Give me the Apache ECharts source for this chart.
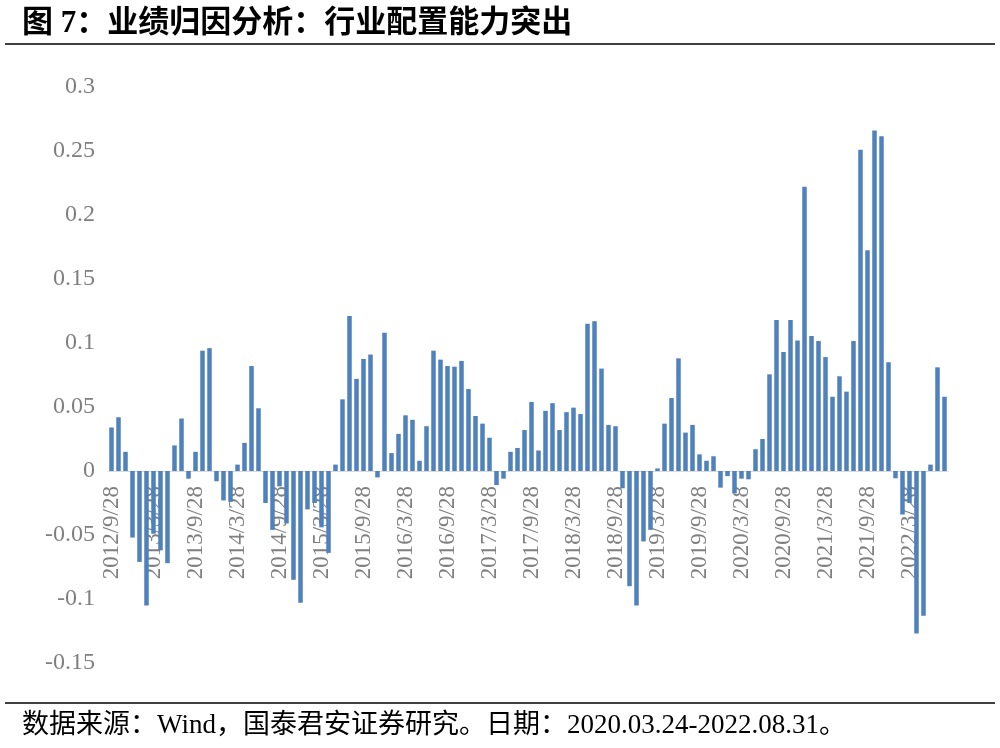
<!DOCTYPE html>
<html lang="zh-CN">
<head>
<meta charset="utf-8" />
<script src="https://cdn.jsdelivr.net/npm/echarts@6/dist/echarts.min.js"></script>
</head>
<body style="margin: 0; background: #fff">
<div id="container" style="width: 1000px; height: 748px;"></div>
<script type="text/javascript">
    // monthly dates, 2012/9/28 .. 2022/8/28
    var categories = [
        '2012/9/28', '2012/10/28', '2012/11/28', '2012/12/28',
        '2013/1/28', '2013/2/28', '2013/3/28', '2013/4/28', '2013/5/28', '2013/6/28', '2013/7/28', '2013/8/28', '2013/9/28', '2013/10/28', '2013/11/28', '2013/12/28',
        '2014/1/28', '2014/2/28', '2014/3/28', '2014/4/28', '2014/5/28', '2014/6/28', '2014/7/28', '2014/8/28', '2014/9/28', '2014/10/28', '2014/11/28', '2014/12/28',
        '2015/1/28', '2015/2/28', '2015/3/28', '2015/4/28', '2015/5/28', '2015/6/28', '2015/7/28', '2015/8/28', '2015/9/28', '2015/10/28', '2015/11/28', '2015/12/28',
        '2016/1/28', '2016/2/28', '2016/3/28', '2016/4/28', '2016/5/28', '2016/6/28', '2016/7/28', '2016/8/28', '2016/9/28', '2016/10/28', '2016/11/28', '2016/12/28',
        '2017/1/28', '2017/2/28', '2017/3/28', '2017/4/28', '2017/5/28', '2017/6/28', '2017/7/28', '2017/8/28', '2017/9/28', '2017/10/28', '2017/11/28', '2017/12/28',
        '2018/1/28', '2018/2/28', '2018/3/28', '2018/4/28', '2018/5/28', '2018/6/28', '2018/7/28', '2018/8/28', '2018/9/28', '2018/10/28', '2018/11/28', '2018/12/28',
        '2019/1/28', '2019/2/28', '2019/3/28', '2019/4/28', '2019/5/28', '2019/6/28', '2019/7/28', '2019/8/28', '2019/9/28', '2019/10/28', '2019/11/28', '2019/12/28',
        '2020/1/28', '2020/2/28', '2020/3/28', '2020/4/28', '2020/5/28', '2020/6/28', '2020/7/28', '2020/8/28', '2020/9/28', '2020/10/28', '2020/11/28', '2020/12/28',
        '2021/1/28', '2021/2/28', '2021/3/28', '2021/4/28', '2021/5/28', '2021/6/28', '2021/7/28', '2021/8/28', '2021/9/28', '2021/10/28', '2021/11/28', '2021/12/28',
        '2022/1/28', '2022/2/28', '2022/3/28', '2022/4/28', '2022/5/28', '2022/6/28', '2022/7/28', '2022/8/28'
    ];

    var values = [
        0.034, 0.042, 0.015, -0.052,
        -0.071, -0.105, -0.049, -0.062, -0.072, 0.020, 0.041, -0.006, 0.015, 0.094, 0.096, -0.008,
        -0.023, -0.024, 0.005, 0.022, 0.082, 0.049, -0.025, -0.046, -0.012, -0.041, -0.085, -0.103,
        -0.030, -0.025, -0.044, -0.064, 0.005, 0.056, 0.121, 0.072, 0.0875, 0.091, -0.005, 0.108,
        0.014, 0.029, 0.0435, 0.040, 0.008, 0.035, 0.094, 0.087, 0.082, 0.0815, 0.086, 0.064,
        0.043, 0.037, 0.026, -0.011, -0.006, 0.015, 0.018, 0.032, 0.054, 0.016, 0.047, 0.053,
        0.032, 0.046, 0.0495, 0.0445, 0.115, 0.117, 0.080, 0.036, 0.035, -0.0135, -0.090, -0.105,
        -0.055, -0.046, 0.002, 0.037, 0.057, 0.088, 0.030, 0.036, 0.013, 0.008, 0.0115, -0.013,
        -0.004, -0.0175, -0.006, -0.0065, 0.017, 0.025, 0.0755, 0.118, 0.093, 0.118, 0.102, 0.222,
        0.1055, 0.1015, 0.089, 0.058, 0.074, 0.062, 0.1015, 0.251, 0.1725, 0.266, 0.2615, 0.085,
        -0.0057, -0.034, -0.025, -0.127, -0.113, 0.005, 0.081, 0.058
    ];

    var yMin = -0.15, yMax = 0.3, yStep = 0.05;

    var titleText = '图 7：业绩归因分析：行业配置能力突出';
    var sourceText = '数据来源：Wind，国泰君安证券研究。日期：2020.03.24-2022.08.31。';

    var dom = document.getElementById('container');
    var myChart = echarts.init(dom, null, { renderer: 'canvas' });

    var serif = "'Liberation Serif', 'Noto Sans CJK SC', serif";

    // plot area (px)
    var gridTop = 87, gridBottom = 85, plotH = 748 - gridTop - gridBottom;
    // lift the category axis from the bottom edge up to the zero line
    var zeroLift = plotH * (0 - yMin) / (yMax - yMin);

    var option = {
        backgroundColor: '#ffffff',
        animation: false,
        grid: {
            left: 108,
            right: 52,
            top: gridTop,
            bottom: gridBottom,
            containLabel: false,
            outerBoundsMode: 'none'
        },
        graphic: [
            {
                type: 'text',
                left: 22,
                top: 8,
                style: {
                    text: titleText,
                    font: "bold 31px " + serif,
                    fill: '#000000'
                }
            },
            {
                type: 'line',
                shape: { x1: 5, y1: 44, x2: 995, y2: 44 },
                style: { stroke: '#404040', lineWidth: 2 }
            },
            {
                type: 'line',
                shape: { x1: 5, y1: 703, x2: 995, y2: 703 },
                style: { stroke: '#404040', lineWidth: 2 }
            },
            {
                type: 'text',
                left: 22,
                top: 712,
                style: {
                    text: sourceText,
                    font: "27px " + serif,
                    fill: '#000000'
                }
            }
        ],
        xAxis: {
            type: 'category',
            data: categories,
            offset: -zeroLift,
            axisLine: {
                show: true,
                onZero: false,
                lineStyle: { color: '#d9d9d9', width: 1 }
            },
            axisTick: { show: false },
            axisLabel: {
                interval: 5,
                rotate: 90,
                margin: 15,
                color: '#7f7f7f',
                fontFamily: serif,
                fontSize: 23
            },
            splitLine: { show: false }
        },
        yAxis: {
            type: 'value',
            min: yMin,
            max: yMax,
            interval: yStep,
            axisLine: { show: false },
            axisTick: { show: false },
            splitLine: { show: false },
            axisLabel: {
                margin: 13,
                color: '#7f7f7f',
                fontFamily: serif,
                fontSize: 24
            }
        },
        series: [{
            type: 'bar',
            data: values,
            barWidth: 4.5,
            itemStyle: { color: '#4f81bd' }
        }]
    };

    myChart.setOption(option);
    window.addEventListener('resize', myChart.resize);
</script>
</body>
</html>
